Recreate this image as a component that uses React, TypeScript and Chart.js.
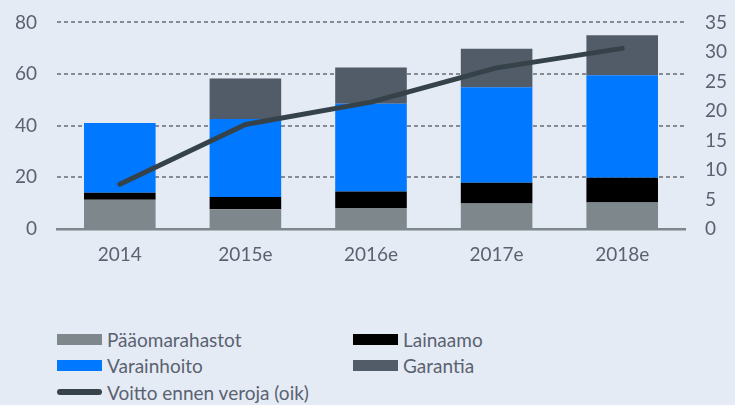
import React, { useEffect, useRef } from "react";
import { Chart, registerables } from "chart.js";

Chart.register(...registerables);

const categories = ["2014", "2015e", "2016e", "2017e", "2018e"];
const paaomarahastot = [11.3, 7.6, 8.1, 9.9, 10.3];
const lainaamo = [2.7, 4.8, 6.4, 8.0, 9.5];
const varainhoito = [27.0, 30.2, 34.0, 37.0, 39.7];
const garantia = [0, 15.7, 14.0, 14.9, 15.5];
const voitto = [7.6, 17.7, 21.5, 27.3, 30.6];
const leftTicks = [0, 20, 40, 60, 80];
const rightTicks = [0, 5, 10, 15, 20, 25, 30, 35];

const BG = "#E5EBF5";
const TEXT = "#5A6270";
const FONT = "Lato, sans-serif";
const FS = 19;
const CANVAS_TOP = -9;
const CANVAS_H = 289;

const legendItems = [
  { label: "Pääomarahastot", color: "#7E878B", type: "box", col: 0, row: 0 },
  { label: "Lainaamo", color: "#000000", type: "box", col: 1, row: 0 },
  { label: "Varainhoito", color: "#0078FF", type: "box", col: 0, row: 1 },
  { label: "Garantia", color: "#525B68", type: "box", col: 1, row: 1 },
  { label: "Voitto ennen veroja (oik)", color: "#36424A", type: "line", col: 0, row: 2 },
];

export default function App() {
  const ref = useRef<HTMLCanvasElement | null>(null);

  useEffect(() => {
    document.body.style.margin = "0";
    const ctx = ref.current!;
    const chart = new Chart(ctx, {
      type: "bar",
      data: {
        labels: categories,
        datasets: [
          {
            type: "line",
            label: "Voitto ennen veroja (oik)",
            data: voitto,
            yAxisID: "y1",
            borderColor: "#36424A",
            backgroundColor: "#36424A",
            borderWidth: 5,
            pointRadius: 0,
            borderCapStyle: "round",
            borderJoinStyle: "round",
            tension: 0,
            order: 0,
          } as any,
          { label: "Pääomarahastot", data: paaomarahastot, backgroundColor: "#7E878B", yAxisID: "y", order: 1 },
          { label: "Lainaamo", data: lainaamo, backgroundColor: "#000000", yAxisID: "y", order: 1 },
          { label: "Varainhoito", data: varainhoito, backgroundColor: "#0078FF", yAxisID: "y", order: 1 },
          { label: "Garantia", data: garantia, backgroundColor: "#525B68", yAxisID: "y", order: 1 },
        ],
      },
      options: {
        animation: false,
        responsive: false,
        maintainAspectRatio: false,
        layout: { padding: { top: 3, left: 0, right: 0, bottom: 0 } },
        datasets: { bar: { barPercentage: 0.57, categoryPercentage: 1 } } as any,
        plugins: { legend: { display: false }, tooltip: { enabled: false } },
        scales: {
          x: {
            stacked: true,
            grid: { display: false, drawTicks: false },
            border: { display: true, color: "#7E878B", width: 2.5 },
            ticks: { color: TEXT, font: { family: FONT, size: FS }, padding: 14 },
            afterFit: (s: any) => { s.height = 51; },
          },
          y: {
            stacked: true,
            position: "left",
            min: 0,
            max: 80,
            afterBuildTicks: (s: any) => { s.ticks = leftTicks.map((v) => ({ value: v })); },
            grid: {
              color: (c: any) => (c.tick && c.tick.value === 0 ? "rgba(0,0,0,0)" : "#868C94"),
              lineWidth: 2,
              drawTicks: false,
            },
            border: { display: false, dash: [4, 3] },
            ticks: { color: TEXT, font: { family: FONT, size: FS }, padding: 20 },
            afterFit: (s: any) => { s.width = 57; },
          },
          y1: {
            position: "right",
            min: 0,
            max: 35,
            afterBuildTicks: (s: any) => { s.ticks = rightTicks.map((v) => ({ value: v })); },
            grid: { display: false, drawTicks: false },
            border: { display: false },
            ticks: { color: TEXT, font: { family: FONT, size: FS }, padding: 20 },
            afterFit: (s: any) => { s.width = 735 - 685; },
          },
        },
      } as any,
    });
    return () => chart.destroy();
  }, []);

  const rowY = [339, 365.5, 392];
  const colX = [57, 353];

  return (
    <div style={{ position: "absolute", left: 0, top: 0, width: 735, height: 405, background: BG, overflow: "hidden" }}>
      <canvas
        ref={ref}
        width={735}
        height={CANVAS_H}
        style={{ position: "absolute", left: 0, top: CANVAS_TOP, width: 735, height: CANVAS_H }}
      />
      {legendItems.map((it) => (
        <div
          key={it.label}
          style={{
            position: "absolute",
            left: colX[it.col],
            top: rowY[it.row] - 12,
            height: 24,
            display: "flex",
            alignItems: "center",
            fontFamily: FONT,
            fontSize: FS,
            color: TEXT,
            whiteSpace: "nowrap",
          }}
        >
          {it.type === "box" ? (
            <span style={{ display: "inline-block", width: 45, height: 11, background: it.color, marginRight: 5 }} />
          ) : (
            <span style={{ display: "inline-block", width: 45, height: 6, borderRadius: 3, background: it.color, marginRight: 5 }} />
          )}
          <span>{it.label}</span>
        </div>
      ))}
    </div>
  );
}
